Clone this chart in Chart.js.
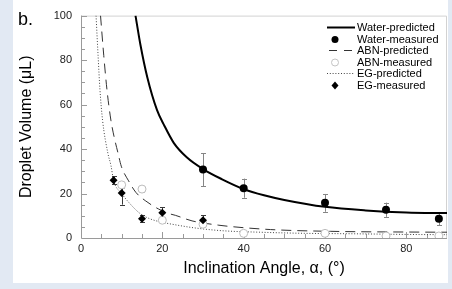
<!DOCTYPE html>
<html>
<head>
<meta charset="utf-8">
<script src="https://cdn.jsdelivr.net/npm/chart.js@4/dist/chart.umd.min.js"></script>
<style>
    html, body { margin: 0; padding: 0; background: #e2e9f3; }
    #wrap { width: 452px; height: 289px; }
</style>
</head>
<body>
<div id="wrap"><canvas id="grafico" width="452" height="289"></canvas></div>
<script>
// curvas predichas
const aguaPredAng = [13.4, 14.6, 16.3, 18.7, 20.5, 22.8, 26, 30, 34.7, 40, 45, 50, 60, 70, 80, 90];
const aguaPredVol = [100, 87, 72.3, 57.5, 50.5, 42.8, 36.3, 31, 26.4, 22, 19.2, 17.1, 14, 12.4, 11.5, 11.2];

const abnPredAng = [4.8, 5.6, 6.4, 7.35, 8.2, 9.1, 9.9, 11.7, 13.5, 15.8, 19, 21.6, 23.2, 27.3, 33.9, 36, 46.6, 61.3, 83.4, 90];
const abnPredVol = [100, 82, 66.4, 53, 45, 38.2, 32.3, 25.7, 20.5, 16.8, 13.1, 11, 10.2, 7.7, 5.75, 5.3, 3.8, 3.0, 2.65, 2.6];

const egPredAng = [3.7, 4.2, 4.65, 5.3, 6.6, 7.4, 8, 10, 12, 14.6, 17, 19.6, 23, 27.7, 34.5, 44, 55, 67, 80, 90];
const egPredVol = [100, 82, 67, 53, 38.2, 32.3, 26, 20, 15.5, 10.9, 8.6, 7.2, 6, 4.6, 3.3, 2.6, 2.1, 1.9, 1.6, 1.5];

// mediciones
const aguaAng = [30, 40, 60, 75, 88];
const aguaVol = [30.8, 22.4, 15.8, 12.7, 8.7];
const aguaErr = [7.4, 4.3, 4, 3.2, 3];

const abnAng = [10, 15, 20, 30, 40, 60, 75, 88];
const abnVol = [23.9, 22, 8, 6.2, 2.1, 2.1, 0.9, 0.9];
const abnErr = [1.5, 1.5, 0.8, 0.8, 0.8, 0.8, 0.5, 0.5];

const egAng = [8, 10, 15, 20, 30];
const egVol = [26, 20.2, 8.7, 11.4, 8];
const egErr = [1.8, 5.2, 1.7, 2.5, 2.3];

const FUENTE = '"Liberation Sans", Arial, sans-serif';

const aPuntos = (xs, ys) => xs.map((v, i) => ({ x: v, y: ys[i] }));

const barrasError = [
    { ang: aguaAng, vol: aguaVol, err: aguaErr, color: "#858585" },
    { ang: abnAng, vol: abnVol, err: abnErr, color: "#bdbdbd" },
    { ang: egAng, vol: egVol, err: egErr, color: "#3a3a3a" },
];

const fondo = {
    id: "fondo",
    beforeDraw(chart) {
        const ctx = chart.ctx;
        ctx.save();
        ctx.fillStyle = "#e2e9f3";
        ctx.fillRect(0, 0, chart.width, chart.height);
        ctx.fillStyle = "#ffffff";
        ctx.fillRect(13, 0, 435, 283);
        ctx.fillStyle = "#000";
        ctx.font = `18px ${FUENTE}`;
        ctx.fillText("b.", 18, 25);
        ctx.restore();
    },
};

const ejes = {
    id: "ejes",
    beforeDatasetsDraw(chart) {
        const { ctx, chartArea: a, scales: { x, y } } = chart;
        ctx.save();
        ctx.lineWidth = 1;
        ctx.strokeStyle = "#d2d2d2";
        ctx.beginPath();
        ctx.moveTo(a.left, a.top + 0.5);
        ctx.lineTo(a.right - 0.5, a.top + 0.5);
        ctx.lineTo(a.right - 0.5, a.bottom);
        ctx.stroke();

        ctx.strokeStyle = "#9a9a9a";
        ctx.beginPath();
        ctx.moveTo(a.left + 0.5, a.top);
        ctx.lineTo(a.left + 0.5, a.bottom + 0.5);
        ctx.lineTo(a.right, a.bottom + 0.5);
        for (let v = 5; v < 90; v += 5) {
            const px = Math.round(x.getPixelForValue(v)) + 0.5;
            const largo = v % 20 === 0 ? 6 : 4;
            ctx.moveTo(px, a.bottom);
            ctx.lineTo(px, a.bottom - largo);
        }
        for (let v = 5; v <= 100; v += 5) {
            const py = Math.round(y.getPixelForValue(v)) + 0.5;
            const largo = v % 20 === 0 ? 6 : 4;
            ctx.moveTo(a.left, py);
            ctx.lineTo(a.left + largo, py);
        }
        ctx.stroke();

        // barras de error
        barrasError.forEach((b) => {
            ctx.strokeStyle = b.color;
            ctx.beginPath();
            b.ang.forEach((ang, i) => {
                const px = Math.round(x.getPixelForValue(ang)) + 0.5;
                const y1 = y.getPixelForValue(b.vol[i] + b.err[i]);
                const y2 = y.getPixelForValue(Math.max(b.vol[i] - b.err[i], 0));
                ctx.moveTo(px, y1);
                ctx.lineTo(px, y2);
                ctx.moveTo(px - 2.5, Math.round(y1) + 0.5);
                ctx.lineTo(px + 2.5, Math.round(y1) + 0.5);
                ctx.moveTo(px - 2.5, Math.round(y2) + 0.5);
                ctx.lineTo(px + 2.5, Math.round(y2) + 0.5);
            });
            ctx.stroke();
        });
        ctx.restore();
    },
};

const leyenda = {
    id: "leyenda",
    afterDraw(chart) {
        const ctx = chart.ctx;
        const filas = ["Water-predicted", "Water-measured", "ABN-predicted", "ABN-measured", "EG-predicted", "EG-measured"];
        const y0 = 27, paso = 11.5, xTexto = 357, xSimbolo = 335;
        ctx.save();
        filas.forEach((t, i) => {
            const yy = Math.round(y0 + i * paso) + 0.5;
            ctx.beginPath();
            if (i === 0) {
                ctx.lineWidth = 2; ctx.strokeStyle = "#000"; ctx.setLineDash([]);
                ctx.moveTo(327, yy); ctx.lineTo(355, yy); ctx.stroke();
            } else if (i === 2) {
                ctx.lineWidth = 1; ctx.strokeStyle = "#333"; ctx.setLineDash([8, 7]);
                ctx.moveTo(329, yy); ctx.lineTo(352, yy); ctx.stroke();
            } else if (i === 4) {
                ctx.lineWidth = 1; ctx.strokeStyle = "#444"; ctx.setLineDash([1, 1.8]);
                ctx.moveTo(327, yy); ctx.lineTo(355, yy); ctx.stroke();
            } else if (i === 1) {
                ctx.fillStyle = "#000"; ctx.arc(xSimbolo, yy, 3.5, 0, Math.PI * 2); ctx.fill();
            } else if (i === 3) {
                ctx.setLineDash([]); ctx.lineWidth = 1; ctx.strokeStyle = "#c4c4c4";
                ctx.arc(xSimbolo, yy, 3.5, 0, Math.PI * 2); ctx.stroke();
            } else {
                ctx.fillStyle = "#000";
                ctx.moveTo(xSimbolo, yy - 4); ctx.lineTo(xSimbolo + 3.5, yy);
                ctx.lineTo(xSimbolo, yy + 4); ctx.lineTo(xSimbolo - 3.5, yy); ctx.closePath(); ctx.fill();
            }
            ctx.setLineDash([]);
            ctx.fillStyle = "#000";
            ctx.font = `11px ${FUENTE}`;
            ctx.textBaseline = "middle";
            ctx.fillText(t, xTexto, yy);
        });
        ctx.restore();
    },
};

new Chart(document.getElementById("grafico").getContext("2d"), {
    type: "scatter",
    data: {
        datasets: [
            { label: "Water-measured", data: aPuntos(aguaAng, aguaVol), pointStyle: "circle", pointRadius: 4, backgroundColor: "#000", borderWidth: 0 },
            { label: "EG-measured", data: aPuntos(egAng, egVol), pointStyle: "rectRot", pointRadius: 4, backgroundColor: "#000", borderWidth: 0 },
            { label: "ABN-measured", data: aPuntos(abnAng, abnVol), pointStyle: "circle", pointRadius: 4, backgroundColor: "#fff", borderColor: "#bdbdbd", borderWidth: 1 },
            { label: "Water-predicted", data: aPuntos(aguaPredAng, aguaPredVol), showLine: true, pointRadius: 0, borderColor: "#000", borderWidth: 2, cubicInterpolationMode: "monotone" },
            { label: "ABN-predicted", data: aPuntos(abnPredAng, abnPredVol), showLine: true, pointRadius: 0, borderColor: "#333", borderWidth: 1, borderDash: [10, 6], cubicInterpolationMode: "monotone" },
            { label: "EG-predicted", data: aPuntos(egPredAng, egPredVol), showLine: true, pointRadius: 0, borderColor: "#444", borderWidth: 1, borderDash: [1, 1.8], cubicInterpolationMode: "monotone" },
        ],
    },
    options: {
        responsive: false,
        animation: false,
        events: [],
        layout: { padding: { left: 0, top: 12, right: 5, bottom: 0 } },
        plugins: { legend: { display: false }, tooltip: { enabled: false } },
        scales: {
            x: {
                type: "linear", min: 0, max: 90,
                afterFit: (s) => { s.height = 51; },
                afterBuildTicks: (s) => { s.ticks = s.ticks.filter((t) => t.value % 20 === 0); },
                grid: { display: false, drawTicks: false },
                border: { display: false },
                ticks: { stepSize: 20, padding: 4, color: "#222", maxRotation: 0, font: { family: FUENTE, size: 11 } },
                title: { display: true, text: "Inclination Angle, α, (°)", color: "#000", font: { family: FUENTE, size: 16 }, padding: { top: 0, bottom: 11 } },
            },
            y: {
                type: "linear", min: 0, max: 100,
                afterFit: (s) => { s.width = 81; },
                grid: { display: false, drawTicks: false },
                border: { display: false },
                ticks: { stepSize: 20, padding: 9, color: "#222", font: { family: FUENTE, size: 11 } },
                title: { display: true, text: "Droplet Volume (μL)", color: "#000", font: { family: FUENTE, size: 16 }, padding: { top: 17, bottom: 0 } },
            },
        },
    },
    plugins: [fondo, ejes, leyenda],
});
</script>
</body>
</html>
